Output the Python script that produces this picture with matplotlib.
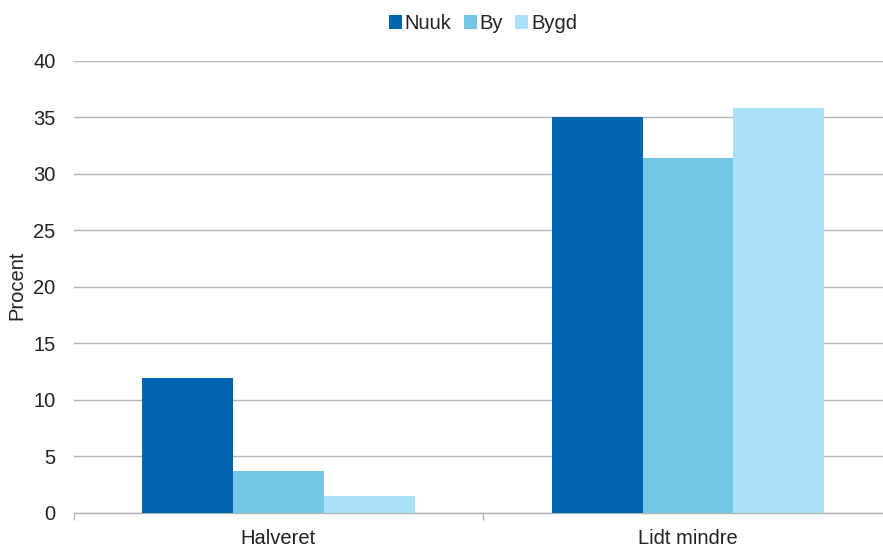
"""Bar chart: Nuuk / By / Bygd by answer category."""

import matplotlib.pyplot as plt
import numpy as np
from matplotlib.ticker import FixedLocator, NullFormatter

categories = ["Halveret", "Lidt mindre"]
series_names = ["Nuuk", "By", "Bygd"]
nuuk = [11.9, 35.0]
by = [3.7, 31.4]
bygd = [1.5, 35.8]

colors = ["#0064B0", "#74C7E4", "#AAE0FA"]
grid_color = "#b3b3b3"

plt.rcParams["font.family"] = ["Liberation Sans", "DejaVu Sans"]
plt.rcParams["font.size"] = 14.5

figure = plt.figure(figsize=(8.83, 5.5), dpi=100)
axis = figure.add_axes([73.75 / 883, 37.5 / 550, 819 / 883, 451.5 / 550])

x = np.arange(len(categories))
bar_width = 0.222
for offset, name, values, color in zip(
    (-1, 0, 1), series_names, (nuuk, by, bygd), colors
):
    axis.bar(x + offset * bar_width, values, width=bar_width, color=color,
             label=name, zorder=3)

axis.set_xlim(-0.5, len(categories) - 0.5)
axis.set_ylim(0, 40)
axis.set_yticks(np.arange(0, 41, 5))
axis.yaxis.grid(True, color=grid_color, linewidth=1.0, zorder=0)
axis.tick_params(axis="y", length=0, pad=13, labelcolor="#222222")

axis.set_xticks(x)
axis.set_xticklabels(categories, color="#222222")
axis.tick_params(axis="x", which="major", length=0, pad=12)
axis.xaxis.set_minor_locator(FixedLocator([-0.5, 0.5, 1.5]))
axis.xaxis.set_minor_formatter(NullFormatter())
axis.tick_params(axis="x", which="minor", length=5, color=grid_color, width=1.0)

for side in ("top", "right", "left"):
    axis.spines[side].set_visible(False)
axis.spines["bottom"].set_color(grid_color)
axis.spines["bottom"].set_linewidth(1.0)

axis.set_ylabel("Procent", color="#222222", va="center")
axis.yaxis.set_label_coords((17 - 73.75) / 819, (512.5 - 285) / 451.5)

figure.legend(
    loc="upper center",
    bbox_to_anchor=(483 / 883, 1.0),
    ncol=3,
    frameon=False,
    handlelength=0.65,
    handleheight=0.65,
    handletextpad=0.15,
    columnspacing=0.6,
    borderaxespad=0.3,
    labelcolor="#222222",
)

figure.savefig("out.png", dpi=100)
plt.close(figure)
